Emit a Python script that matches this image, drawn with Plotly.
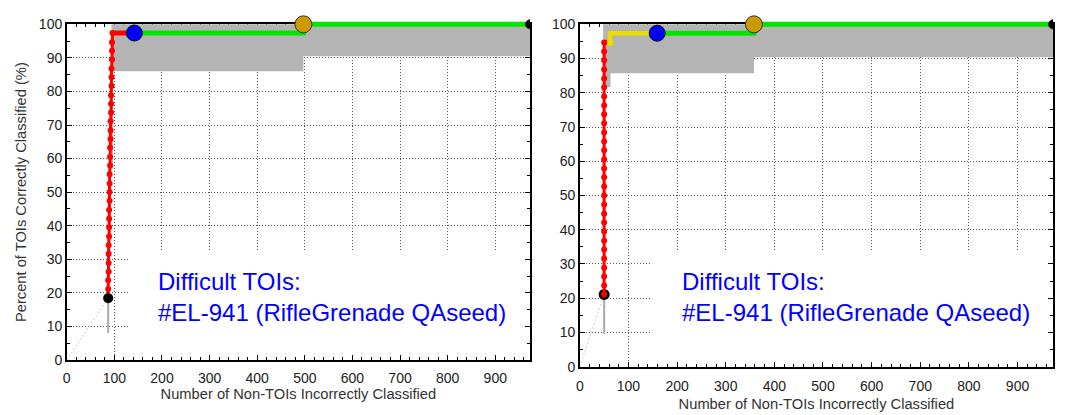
import plotly.graph_objects as go

# ---------------- data ----------------
# Left panel
L_red_x = [87, 87, 87, 88, 88, 88, 88, 89, 89, 89, 89, 90, 90, 90, 90, 91,
           91, 91, 92, 92, 92, 93, 93, 93, 94, 94, 94, 95, 95, 95, 96]
L_red_y = [18.4, 21.1, 23.7, 26.3, 28.9, 31.6, 34.2, 36.8, 39.5, 42.1, 44.7,
           47.4, 50.0, 52.6, 55.3, 57.9, 60.5, 63.2, 65.8, 68.4, 71.1, 73.7,
           76.3, 78.9, 81.6, 84.2, 86.8, 89.5, 92.1, 94.7, 97.4]
L_redtop_x = [96, 142]
L_redtop_y = [97.4, 97.4]
L_green_x = [142, 497, 497, 973]
L_green_y = [97.4, 97.4, 100, 100]
L_band_x = [94, 973, 973, 497, 497, 97, 97, 94]
L_band_y = [100, 100, 90.5, 90.5, 86, 86, 57, 57]
L_start = (87, 18.4)
L_whisker_x = [87, 87]
L_whisker_y = [18.4, 8]
L_diag_x = [0, 87]
L_diag_y = [0, 18.4]
L_blue = (142, 97.4)
L_gold = (497, 100)
L_end = (973, 100)

# Right panel
R_red_x = [50] * 29
R_red_y = [21.1, 23.7, 26.3, 28.9, 31.6, 34.2, 36.8, 39.5, 42.1, 44.7, 47.4,
           50.0, 52.6, 55.3, 57.9, 60.5, 63.2, 65.8, 68.4, 71.1, 73.7, 76.3,
           78.9, 81.6, 84.2, 86.8, 89.5, 92.1, 94.7]
R_redtop_x = [50, 57]
R_redtop_y = [94.7, 94.7]
R_yellow_x = [62, 62, 159]
R_yellow_y = [94.7, 97.4, 97.4]
R_green_x = [159, 358, 358, 973]
R_green_y = [97.4, 97.4, 100, 100]
R_band_x = [48, 973, 973, 358, 358, 63, 63, 48]
R_band_y = [100, 100, 90.4, 90.4, 85.7, 85.7, 81.7, 81.7]
R_start = (50, 21.1)
R_whisker_x = [50, 50]
R_whisker_y = [21.1, 9.5]
R_diag_x = [0, 50]
R_diag_y = [0, 21.1]
R_blue = (159, 97.4)
R_gold = (358, 100)
R_yellow_dot = (62, 94.7)
R_end = (973, 100)

X_MAX = 973
x_ticks = [0, 100, 200, 300, 400, 500, 600, 700, 800, 900]
y_ticks = [0, 10, 20, 30, 40, 50, 60, 70, 80, 90, 100]
note = "Difficult TOIs:<br>#EL-941 (RifleGrenade QAseed)"
x_title = "Number of Non-TOIs Incorrectly Classified"
y_title = "Percent of TOIs Correctly Classified (%)"

# ---------------- layout geometry (pixels) ----------------
W, H = 1065, 415
EXT = 6  # extra pixels above plot top for overlay (unclipped) data axes
panels = {
    "L": dict(x0=63, x1=528, top=17, bottom=366),
    "R": dict(x0=578, x1=1053, top=17, bottom=373),
}

RED = "#ff0000"
GREEN = "#00e600"
YELLOW = "#e8dc00"
GRAY = "#b4b4b4"
BLUE = "#0000ff"
GOLD = "#cc9900"

fig = go.Figure()

def add_panel(p, xa, ya, red_x, red_y, redtop_x, redtop_y, green_x, green_y,
              band_x, band_y, start, wx, wy, dx, dy, blue, gold, end,
              yellow=None, ydot=None, black_on_top=True):
    ref = dict(xaxis=xa, yaxis=ya)
    fig.add_trace(go.Scatter(x=band_x, y=band_y, fill="toself", fillcolor=GRAY,
                             mode="lines", line=dict(width=0), hoverinfo="skip", **ref))
    fig.add_trace(go.Scatter(x=dx, y=dy, mode="lines",
                             line=dict(color="#dcdcdc", width=1.5, dash="2px,2px"), **ref))
    fig.add_trace(go.Scatter(x=wx, y=wy, mode="lines",
                             line=dict(color="#aaaaaa", width=2), **ref))
    if not black_on_top:
        fig.add_trace(go.Scatter(x=[start[0]], y=[start[1]], mode="markers",
                                 marker=dict(color="black", size=11), **ref))
    fig.add_trace(go.Scatter(x=redtop_x, y=redtop_y, mode="lines",
                             line=dict(color=RED, width=5), **ref))
    if yellow is not None:
        fig.add_trace(go.Scatter(x=yellow[0], y=yellow[1], mode="lines",
                                 line=dict(color=YELLOW, width=4.5), **ref))
        fig.add_trace(go.Scatter(x=[ydot[0]], y=[ydot[1]], mode="markers",
                                 marker=dict(color=YELLOW, size=7), **ref))
    fig.add_trace(go.Scatter(x=red_x, y=red_y, mode="lines+markers",
                             line=dict(color=RED, width=3),
                             marker=dict(color=RED, size=6), **ref))
    if black_on_top:
        fig.add_trace(go.Scatter(x=[start[0]], y=[start[1]], mode="markers",
                                 marker=dict(color="black", size=10), **ref))
    fig.add_trace(go.Scatter(x=green_x, y=green_y, mode="lines",
                             line=dict(color=GREEN, width=5), **ref))
    fig.add_trace(go.Scatter(x=[end[0]], y=[end[1]], mode="markers",
                             marker=dict(color="black", size=9,
                                         line=dict(color="#222", width=1)), **ref))
    fig.add_trace(go.Scatter(x=[blue[0]], y=[blue[1]], mode="markers", cliponaxis=False,
                             marker=dict(color=BLUE, size=16,
                                         line=dict(color="#111", width=1)), **ref))
    fig.add_trace(go.Scatter(x=[gold[0]], y=[gold[1]], mode="markers", cliponaxis=False,
                             marker=dict(color=GOLD, size=17,
                                         line=dict(color="#333", width=1)), **ref))

add_panel(panels["L"], "x3", "y3", L_red_x, L_red_y, L_redtop_x, L_redtop_y,
          L_green_x, L_green_y, L_band_x, L_band_y, L_start, L_whisker_x,
          L_whisker_y, L_diag_x, L_diag_y, L_blue, L_gold, L_end, black_on_top=True)
add_panel(panels["R"], "x4", "y4", R_red_x, R_red_y, R_redtop_x, R_redtop_y,
          R_green_x, R_green_y, R_band_x, R_band_y, R_start, R_whisker_x,
          R_whisker_y, R_diag_x, R_diag_y, R_blue, R_gold, R_end,
          yellow=(R_yellow_x, R_yellow_y), ydot=R_yellow_dot, black_on_top=False)

tickfont = dict(family="Liberation Sans, Arial, sans-serif", size=14, color="#222")
titlefont = dict(family="Liberation Sans, Arial, sans-serif", size=14.7, color="#333")

def main_x(p, title_standoff, label_standoff):
    return dict(domain=[p["x0"] / W, p["x1"] / W], range=[0, X_MAX],
                tickvals=x_ticks, ticks="inside", ticklen=5, tickwidth=1,
                tickcolor="black", showline=True, linecolor="black", linewidth=1.5,
                mirror="allticks", showgrid=True, gridcolor="#555",
                griddash="1px,2px", gridwidth=1, zeroline=False,
                ticklabelstandoff=label_standoff,
                minor=dict(dtick=20, ticks="inside", ticklen=3, tickcolor="black",
                           showgrid=False),
                tickfont=tickfont,
                title=dict(text=x_title, font=titlefont, standoff=title_standoff))

def main_y(p, anchor, title=None):
    d = dict(domain=[1 - p["bottom"] / H, 1 - p["top"] / H], range=[0, 100],
             tickvals=y_ticks, ticks="inside", ticklen=5, tickwidth=1,
             tickcolor="black", showline=True, linecolor="black", linewidth=1.5,
             mirror="allticks", showgrid=True, gridcolor="#555",
             griddash="1px,2px", gridwidth=1, zeroline=False, anchor=anchor,
             minor=dict(dtick=5, ticks="inside", ticklen=3, tickcolor="black",
                        showgrid=False),
             tickfont=tickfont)
    if title:
        d["title"] = dict(text=title, font=titlefont, standoff=9)
    return d

def overlay_x(p, anchor):
    return dict(domain=[p["x0"] / W, p["x1"] / W], range=[0, X_MAX], visible=False,
                anchor=anchor, showgrid=False, zeroline=False)

def overlay_y(p, anchor):
    span = p["bottom"] - p["top"]
    return dict(domain=[1 - p["bottom"] / H, 1 - (p["top"] - EXT) / H],
                range=[0, 100 + EXT * 100 / span], visible=False, anchor=anchor,
                showgrid=False, zeroline=False)

L, R = panels["L"], panels["R"]
fig.update_layout(
    width=W, height=H, margin=dict(l=0, r=0, t=0, b=0),
    paper_bgcolor="white", plot_bgcolor="rgba(0,0,0,0)", showlegend=False,
    xaxis=dict(anchor="y", **main_x(L, 3, 5)),
    yaxis=main_y(L, "x", y_title),
    xaxis2=dict(anchor="y2", **main_x(R, 6, 6)),
    yaxis2=main_y(R, "x2"),
    xaxis3=overlay_x(L, "y3"),
    yaxis3=overlay_y(L, "x3"),
    xaxis4=overlay_x(R, "y4"),
    yaxis4=overlay_y(R, "x4"),
    shapes=[
        dict(type="rect", xref="x", yref="y", x0=130, x1=X_MAX, y0=0, y1=32.5,
             fillcolor="white", line=dict(width=0), layer="between"),
        dict(type="rect", xref="x2", yref="y2", x0=148, x1=X_MAX, y0=0, y1=33.7,
             fillcolor="white", line=dict(width=0), layer="between"),
    ],
    annotations=[
        dict(text=note, xref="x", yref="y", x=187, y=18.6, xanchor="left",
             yanchor="middle", align="left", showarrow=False,
             font=dict(family="Liberation Sans, Arial, sans-serif", size=24, color=BLUE)),
        dict(text=note, xref="x2", yref="y2", x=205, y=20.2, xanchor="left",
             yanchor="middle", align="left", showarrow=False,
             font=dict(family="Liberation Sans, Arial, sans-serif", size=24, color=BLUE)),
    ],
)

fig.write_html("out.html")
